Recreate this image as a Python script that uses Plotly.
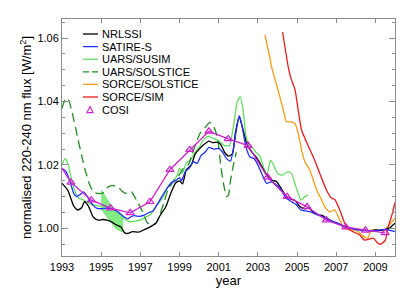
import plotly.graph_objects as go

# ---------------- data ----------------
nrl_x = [1993.0, 1993.3, 1993.6, 1993.8, 1994.0, 1994.15, 1994.35, 1994.6, 1994.85, 1995.1,
         1995.3, 1995.55, 1995.75, 1996.0, 1996.2, 1996.35, 1996.6, 1996.9, 1997.2, 1997.5,
         1997.8, 1998.0, 1998.3, 1998.55, 1998.8, 1999.0, 1999.15, 1999.35, 1999.6, 1999.8,
         2000.0, 2000.2, 2000.5, 2000.7, 2000.9, 2001.1, 2001.3, 2001.5, 2001.7, 2001.85,
         2002.05, 2002.25, 2002.45, 2002.7, 2002.95, 2003.2, 2003.45, 2003.7, 2003.95, 2004.2,
         2004.45, 2004.7, 2004.9, 2005.15, 2005.4, 2005.6, 2005.85, 2006.1, 2006.3, 2006.55,
         2006.85, 2007.1, 2007.3, 2007.55, 2007.8, 2008.0, 2008.2, 2008.5, 2008.8, 2009.0,
         2009.3, 2009.5, 2009.7, 2009.85, 2010.0]
nrl_y = [1.0142, 1.0120, 1.0070, 1.0058, 1.0065, 1.0084, 1.0070, 1.0035, 1.0026, 1.0028,
         1.0026, 1.0020, 1.0012, 1.0005, 0.9986, 0.9984, 0.9990, 0.9988, 0.9996, 1.0005,
         1.0017, 1.0040, 1.0068, 1.0110, 1.0143, 1.0150, 1.0140, 1.0185, 1.0200, 1.0235,
         1.0250, 1.0262, 1.0275, 1.0270, 1.0272, 1.0265, 1.0240, 1.0228, 1.0235, 1.0300,
         1.0352, 1.0310, 1.0262, 1.0240, 1.0222, 1.0195, 1.0168, 1.0152, 1.0148, 1.0125,
         1.0100, 1.0092, 1.0088, 1.0068, 1.0062, 1.0065, 1.0050, 1.0043, 1.0040, 1.0030,
         1.0021, 1.0015, 1.0008, 1.0003, 1.0000, 0.9998, 0.9996, 0.9994, 0.9993, 0.9995,
         0.9994, 0.9997, 1.0000, 1.0008, 1.0016]

sat_x = [1993.0, 1993.2, 1993.4, 1993.6, 1993.75, 1993.95, 1994.1, 1994.3, 1994.55, 1994.8,
         1995.0, 1995.3, 1995.55, 1995.8, 1996.0, 1996.2, 1996.35, 1996.5, 1996.7, 1996.95,
         1997.2, 1997.45, 1997.65, 1997.85, 1998.1, 1998.35, 1998.6, 1998.8, 1999.0, 1999.1,
         1999.3, 1999.5, 1999.7, 1999.9, 2000.1, 2000.3, 2000.5, 2000.75, 2001.0, 2001.2,
         2001.4, 2001.6, 2001.75, 2001.9, 2002.05, 2002.2, 2002.4, 2002.6, 2002.8, 2003.0,
         2003.25, 2003.45, 2003.7, 2003.9, 2004.15, 2004.45, 2004.7, 2004.95, 2005.2, 2005.45,
         2005.7, 2005.95, 2006.15, 2006.4, 2006.6, 2006.85, 2007.1, 2007.3, 2007.5, 2007.75,
         2008.0, 2008.2, 2008.5, 2008.8, 2009.1, 2009.35, 2009.55, 2009.8, 2010.0]
sat_y = [1.0189, 1.0180, 1.0150, 1.0110, 1.0100, 1.0108, 1.0115, 1.0100, 1.0075, 1.0063,
         1.0062, 1.0064, 1.0062, 1.0055, 1.0045, 1.0035, 1.0030, 1.0036, 1.0040, 1.0038,
         1.0042, 1.0050, 1.0055, 1.0075, 1.0100, 1.0125, 1.0145, 1.0150, 1.0160, 1.0150,
         1.0180, 1.0190, 1.0210, 1.0205, 1.0230, 1.0240, 1.0255, 1.0250, 1.0252, 1.0240,
         1.0220, 1.0212, 1.0250, 1.0310, 1.0355, 1.0320, 1.0255, 1.0225, 1.0220, 1.0200,
         1.0165, 1.0142, 1.0147, 1.0140, 1.0125, 1.0095, 1.0085, 1.0075, 1.0058, 1.0055,
         1.0052, 1.0045, 1.0040, 1.0035, 1.0028, 1.0021, 1.0016, 1.0010, 1.0003, 1.0000,
         0.9996, 0.9995, 0.9993, 0.9992, 0.9994, 0.9996, 0.9997, 0.9993, 0.9990]

susim_x = [1993.0, 1993.15, 1993.3, 1993.5, 1993.7, 1993.85, 1994.1, 1994.3, 1994.55, 1994.8,
           1995.0, 1995.3, 1995.6, 1995.85, 1996.1, 1996.3, 1996.5, 1996.75, 1997.0, 1997.25,
           1997.5, 1997.75, 1998.0, 1998.2, 1998.45, 1998.7, 1998.9, 1999.0, 1999.15, 1999.35,
           1999.55, 1999.75, 2000.0, 2000.2, 2000.45, 2000.7, 2000.9, 2001.15, 2001.35, 2001.55,
           2001.75, 2001.95, 2002.1, 2002.25, 2002.4, 2002.55, 2002.7, 2002.9, 2003.1, 2003.3,
           2003.45, 2003.65, 2003.8, 2004.0, 2004.25, 2004.5, 2004.7, 2004.95, 2005.2, 2005.35,
           2005.55]
susim_y = [1.0200, 1.0220, 1.0205, 1.0150, 1.0110, 1.0095, 1.0090, 1.0082, 1.0075, 1.0072,
           1.0070, 1.0068, 1.0060, 1.0050, 1.0035, 1.0025, 1.0021, 1.0023, 1.0026, 1.0035,
           1.0042, 1.0065, 1.0085, 1.0105, 1.0135, 1.0150, 1.0170, 1.0190, 1.0175, 1.0205,
           1.0215, 1.0236, 1.0255, 1.0278, 1.0290, 1.0284, 1.0280, 1.0268, 1.0260, 1.0262,
           1.0320, 1.0400, 1.0415, 1.0370, 1.0289, 1.0262, 1.0255, 1.0240, 1.0228, 1.0190,
           1.0168, 1.0215, 1.0200, 1.0173, 1.0168, 1.0178, 1.0175, 1.0130, 1.0089, 1.0098,
           1.0105]

band_x = [1995.0, 1995.25, 1995.5, 1995.75, 1996.1]
band_hi = [1.0121, 1.0095, 1.0072, 1.0052, 1.0036]
band_lo = [1.0062, 1.0042, 1.0020, 1.0000, 0.9988]

solst_x = [1993.0, 1993.15, 1993.3, 1993.5, 1993.75, 1994.0, 1994.2, 1994.4, 1994.6, 1994.85,
           1995.1, 1995.36, 1995.6, 1995.87, 1996.05, 1996.3, 1996.55, 1996.7, 1996.9, 1997.15,
           1997.35, 1997.55, 1997.8, 1998.0, 1998.2, 1998.4, 1998.6, 1998.8, 1999.0, 1999.2,
           1999.45, 1999.65, 1999.85, 2000.05, 2000.3, 2000.55, 2000.75, 2000.95, 2001.1, 2001.25,
           2001.4, 2001.5, 2001.6, 2001.75, 2001.9]
solst_y = [1.0378, 1.0405, 1.0410, 1.0370, 1.0300, 1.0230, 1.0180, 1.0140, 1.0115, 1.0110,
           1.0112, 1.0131, 1.0135, 1.0131, 1.0118, 1.0110, 1.0115, 1.0100, 1.0079, 1.0047,
           1.0018, 1.0010, 1.0016, 1.0045, 1.0080, 1.0120, 1.0140, 1.0160, 1.0170, 1.0190,
           1.0200, 1.0235, 1.0270, 1.0300, 1.0318, 1.0334, 1.0320, 1.0284, 1.0200, 1.0140,
           1.0100, 1.0105, 1.0150, 1.0200, 1.0240]

ssol_x = [2003.36, 2003.6, 2003.7, 2004.03, 2004.3, 2004.46, 2004.7, 2004.9, 2005.06, 2005.23,
          2005.4, 2005.65, 2006.0, 2006.25, 2006.42, 2006.67, 2006.93, 2007.18, 2007.44, 2007.7,
          2007.95, 2008.15, 2008.3, 2008.6, 2008.8, 2009.14, 2009.48, 2009.7, 2010.0]
ssol_y = [1.0610, 1.0541, 1.0509, 1.0436, 1.0373, 1.0336, 1.0336, 1.0330, 1.0300, 1.0247,
          1.0210, 1.0184, 1.0121, 1.0090, 1.0068, 1.0052, 1.0058, 1.0026, 1.0000, 0.9995,
          0.9995, 0.9988, 0.9979, 0.9969, 0.9995, 0.9995, 0.9995, 1.0010, 1.0032]

sim_x = [2004.26, 2004.55, 2004.67, 2004.9, 2005.06, 2005.23, 2005.57, 2005.9, 2006.16, 2006.5,
         2006.76, 2006.93, 2007.18, 2007.44, 2007.7, 2007.95, 2008.2, 2008.45, 2008.9, 2009.1,
         2009.25, 2009.5, 2009.65, 2009.82, 2010.0]
sim_y = [1.0619, 1.0509, 1.0477, 1.0436, 1.0373, 1.0310, 1.0260, 1.0215, 1.0173, 1.0121,
         1.0095, 1.0091, 1.0058, 1.0016, 0.9995, 0.9987, 0.9979, 0.9963, 0.9969, 0.9955,
         0.9950, 0.9962, 1.0005, 1.0037, 1.0082]

cosi_x = [1992.5, 1993.46, 1994.5, 1995.48, 1996.48, 1997.49, 1998.51, 1999.52, 2000.5,
          2001.49, 2002.5, 2003.5, 2004.49, 2005.51, 2006.5, 2007.49, 2008.49, 2009.5]
cosi_y = [1.0237, 1.0145, 1.0089, 1.0064, 1.0049, 1.0084, 1.0185, 1.0248, 1.0306,
          1.0282, 1.0261, 1.0161, 1.0100, 1.0068, 1.0026, 1.0004, 0.9994, 0.9986]

legend_names = ["NRLSSI", "SATIRE-S", "UARS/SUSIM", "UARS/SOLSTICE",
                "SORCE/SOLSTICE", "SORCE/SIM", "COSI"]

x_ticks = [1993, 1995, 1997, 1999, 2001, 2003, 2005, 2007, 2009]
y_ticks = [1.00, 1.02, 1.04, 1.06]

# ---------------- styles ----------------
C_BLACK = "#000000"
C_BLUE = "#1f2fff"
C_LGREEN = "#5fe05f"
C_DGREEN = "#1f8f1f"
C_ORANGE = "#ff9a10"
C_RED = "#f01818"
C_MAG = "#d020d0"
W = 1.3
SPL = dict(shape="spline", smoothing=0.5)

fig = go.Figure()

# shaded SUSIM region
fig.add_trace(go.Scatter(x=band_x + band_x[::-1], y=band_hi + band_lo[::-1],
                         fill="toself", fillcolor="rgba(110,230,110,0.85)",
                         line=dict(color=C_LGREEN, width=0.8), mode="lines",
                         showlegend=False, hoverinfo="skip"))

fig.add_trace(go.Scatter(x=susim_x, y=susim_y, mode="lines", name="UARS/SUSIM",
                         line=dict(color=C_LGREEN, width=W, **SPL)))
fig.add_trace(go.Scatter(x=solst_x, y=solst_y, mode="lines", name="UARS/SOLSTICE",
                         line=dict(color=C_DGREEN, width=W, dash="9px,5px", **SPL)))
fig.add_trace(go.Scatter(x=ssol_x, y=ssol_y, mode="lines", name="SORCE/SOLSTICE",
                         line=dict(color=C_ORANGE, width=W, **SPL)))
fig.add_trace(go.Scatter(x=sim_x, y=sim_y, mode="lines", name="SORCE/SIM",
                         line=dict(color=C_RED, width=W, **SPL)))
fig.add_trace(go.Scatter(x=nrl_x, y=nrl_y, mode="lines", name="NRLSSI",
                         line=dict(color=C_BLACK, width=W, **SPL)))
fig.add_trace(go.Scatter(x=sat_x, y=sat_y, mode="lines", name="SATIRE-S",
                         line=dict(color=C_BLUE, width=W, **SPL)))
fig.add_trace(go.Scatter(x=cosi_x, y=cosi_y, mode="lines+markers", name="COSI",
                         line=dict(color=C_MAG, width=W),
                         marker=dict(symbol="triangle-up-open", size=7,
                                     color=C_MAG, line=dict(width=1.2, color=C_MAG))))

# ---------------- layout geometry ----------------
# The page body adds an 8 px offset, so the figure is laid out 8 px up/left.
OFF = 8
FIG_W, FIG_H = 406, 280
PLOT_L, PLOT_R, PLOT_T, PLOT_B = 62, 395, 19, 256   # screen pixels of the frame


def px2paper(px, py):
    return (px - PLOT_L) / (PLOT_R - PLOT_L), (PLOT_B - py) / (PLOT_B - PLOT_T)


# ---------------- manual legend (paper coordinates) ----------------
leg_styles = [(C_BLACK, "solid"), (C_BLUE, "solid"), (C_LGREEN, "solid"),
              (C_DGREEN, "6px,3px"), (C_ORANGE, "solid"), (C_RED, "solid"), (C_MAG, None)]
shapes = []
annotations = []
for i, (name, (col, dash)) in enumerate(zip(legend_names, leg_styles)):
    cy = 34 + i * 12.6
    x0, y0 = px2paper(83, cy)
    x1, _ = px2paper(98, cy)
    if dash is not None:
        shapes.append(dict(type="line", xref="paper", yref="paper", x0=x0, x1=x1,
                           y0=y0, y1=y0, line=dict(color=col, width=1.3, dash=dash)))
    else:
        ax, ay = px2paper(87, cy + 3)
        bx, by = px2paper(93, cy + 3)
        tx, ty = px2paper(90, cy - 3)
        shapes.append(dict(type="path", xref="paper", yref="paper",
                           path=f"M {ax},{ay} L {bx},{by} L {tx},{ty} Z",
                           line=dict(color=col, width=1.2)))
    xt, yt = px2paper(100, cy)
    annotations.append(dict(text=name, xref="paper", yref="paper", x=xt, y=yt,
                            xanchor="left", yanchor="middle", showarrow=False,
                            font=dict(size=11, color="black")))

AX = "#8c8c8c"
fig.update_layout(
    width=FIG_W, height=FIG_H,
    margin=dict(l=PLOT_L - OFF, r=FIG_W - (PLOT_R - OFF), t=PLOT_T - OFF,
                b=FIG_H - (PLOT_B - OFF), autoexpand=False),
    paper_bgcolor="white", plot_bgcolor="white",
    font=dict(family="Liberation Sans, Arial, Helvetica, sans-serif", size=11, color="black"),
    showlegend=False,
    shapes=shapes, annotations=annotations,
    xaxis=dict(range=[1993, 2010], tickvals=x_ticks, ticktext=[str(t) for t in x_ticks],
               automargin=False, ticklabelstandoff=1,
               showgrid=False, zeroline=False, showline=True, linecolor=AX, linewidth=1,
               mirror="ticks", ticks="inside", ticklen=4, tickcolor=AX,
               title=dict(text="year", standoff=4), tickfont=dict(size=11)),
    yaxis=dict(range=[0.9913, 1.066], tickvals=y_ticks, ticktext=[f"{t:.2f}" for t in y_ticks],
               automargin=False,
               showgrid=False, zeroline=False, showline=True, linecolor=AX, linewidth=1,
               mirror="ticks", ticks="inside", ticklen=6, tickcolor=AX,
               minor=dict(dtick=0.005, tick0=1.0, ticks="inside", ticklen=3, tickcolor=AX,
                          showgrid=False),
               title=dict(text="normalised 220-240 nm flux [W/m<sup>2</sup>]", standoff=2),
               tickfont=dict(size=11)),
)

fig.write_html("out.html")
